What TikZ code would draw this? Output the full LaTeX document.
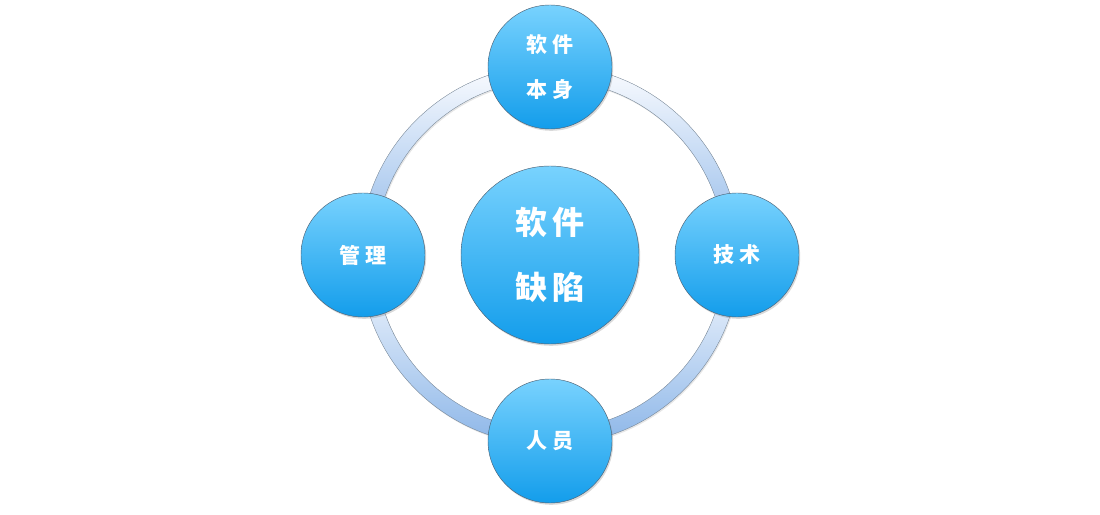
\documentclass[tikz,border=0pt]{standalone}
\usepackage{fontspec}
\newfontfamily\cjk[LetterSpace=22]{Noto Sans CJK SC}
\newfontfamily\cjkbig[LetterSpace=14]{Noto Sans CJK SC}
\usetikzlibrary{shadows}
\definecolor{ctop}{HTML}{78D2FE}
\definecolor{cbot}{HTML}{139DEB}
\definecolor{rtop}{HTML}{FBFCFF}
\definecolor{rbot}{HTML}{8CB6E8}
\definecolor{edge}{HTML}{4E6275}
\tikzset{
  bubble/.style={circle, inner sep=0pt, top color=ctop, bottom color=cbot,
    draw=edge, line width=0.45pt, text=white, align=center,
    drop shadow={shadow xshift=1.2pt, shadow yshift=-1.8pt, opacity=0.3}},
  smallbubble/.style={bubble, minimum size=124pt,
    font=\cjk\bfseries\fontsize{21}{45}\selectfont},
  bigbubble/.style={bubble, minimum size=178pt,
    font=\cjkbig\bfseries\fontsize{32}{65}\selectfont},
  ringseg/.style={top color=rtop, bottom color=rbot, draw=edge!80,
    line width=0.35pt,
    drop shadow={shadow xshift=1pt, shadow yshift=-1.5pt, opacity=0.2}}
}
\begin{document}
\begin{tikzpicture}[x=1pt,y=1pt]
\useasboundingbox (0,0) rectangle (1100,514);
\coordinate (C) at (550,259);
\foreach \a in {0,90,180,270}{
  \path[ringseg] ([shift={(\a:190)}]C) arc[start angle=\a, end angle=\a+90, radius=190]
    -- ([shift={(\a+90:175)}]C) arc[start angle=\a+90, end angle=\a, radius=175] -- cycle;
}
\node[bigbubble] (core) at (C) {软件\\缺陷};
\node[smallbubble] (self) at (550,447) {软件\\本身};
\node[smallbubble] (tech) at (737,259) {技术};
\node[smallbubble] (mgmt) at (363,259) {管理};
\node[smallbubble] (staff) at (550,73) {人员};
\end{tikzpicture}
\end{document}
